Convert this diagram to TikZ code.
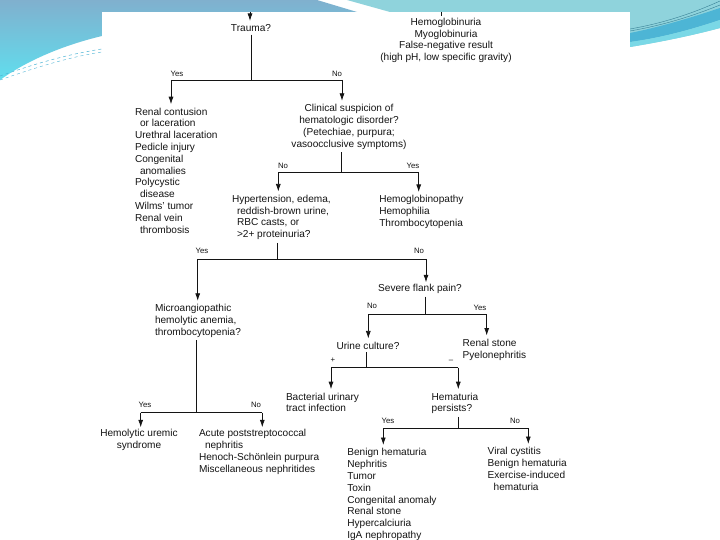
\documentclass[tikz,border=0pt]{standalone}
\usepackage{fontspec}
\setmainfont{Liberation Sans}
\usetikzlibrary{arrows.meta}
\definecolor{sb}{RGB}{128,176,206}
\definecolor{cy}{RGB}{96,222,238}
\definecolor{tl}{RGB}{143,211,220}
\definecolor{tb}{RGB}{77,181,213}
\definecolor{tc}{RGB}{122,216,230}
\definecolor{ink}{RGB}{20,20,20}
\begin{document}
\begin{tikzpicture}[x=1pt,y=-1pt,
  txt/.style={inner sep=0pt, outer sep=0pt, text=ink, font=\fontsize{10.1}{11.8}\selectfont, align=left, anchor=north west},
  ctxt/.style={txt, align=center, anchor=north},
  lbl/.style={inner sep=0pt, text=ink, font=\fontsize{7.8}{8}\selectfont},
  conn/.style={draw=ink, line width=0.75pt},
  arr/.style={conn, -{Latex[length=7.5pt,width=5pt]}, shorten >=3.5pt},
]
\useasboundingbox (0,0) rectangle (720,540);
\fill[white] (0,0) rectangle (720,540);
% background template
\shade[top color=sb, bottom color=cy] (0,0) -- (317,0) -- (357,12) -- (102,12) -- (102,36) .. controls (60,46) and (25,62) .. (0,80) -- cycle;
\fill[tl] (347,0) -- (720,0) -- (720,28) .. controls (690,36) and (660,42) .. (630,47) -- (630,12) -- (390,12) -- cycle;
\fill[tb] (630,33) .. controls (660,27) and (690,18) .. (720,8) -- (720,20) .. controls (690,30) and (660,38) .. (630,42) -- cycle;
\fill[tc] (630,42) .. controls (660,38) and (690,30) .. (720,20) -- (720,28) .. controls (690,36) and (660,42) .. (630,47) -- cycle;
\draw[tb!70!black, line width=0.4pt] (630,29) .. controls (670,22) and (700,10) .. (720,1);
\draw[tb!70!black, line width=0.4pt] (630,31) .. controls (670,24) and (700,13) .. (720,5);
\draw[tb, dashed, line width=0.5pt] (0,76) .. controls (40,62) and (70,54) .. (102,49);
\draw[tb, dashed, line width=0.4pt] (0,80) .. controls (40,66) and (70,57) .. (102,52);
% panel
\fill[white] (102,12) rectangle (630,540);

% nodes
\node[txt, anchor=center] (trauma) at (251,28) {Trauma?};
\node[ctxt] (hemo) at (446,18) {Hemoglobinuria\\Myoglobinuria\\False-negative result\\(high pH, low specific gravity)};
\node[txt] (renal) at (135,107.7) {Renal contusion\\\hspace*{5pt}or laceration\\Urethral laceration\\Pedicle injury\\Congenital\\\hspace*{5pt}anomalies\\Polycystic\\\hspace*{5pt}disease\\Wilms' tumor\\Renal vein\\\hspace*{5pt}thrombosis};
\node[ctxt] (clin) at (349,104.3) {Clinical suspicion of\\hematologic disorder?\\(Petechiae, purpura;\\vasoocclusive symptoms)};
\node[txt] (hyper) at (232,195) {Hypertension, edema,\\\hspace*{5pt}reddish-brown urine,\\\hspace*{5pt}RBC casts, or\\\hspace*{5pt}>2+ proteinuria?};
\node[txt] (hemop) at (379.3,195.5) {Hemoglobinopathy\\Hemophilia\\Thrombocytopenia};
\node[txt] (micro) at (155,304.3) {Microangiopathic\\hemolytic anemia,\\thrombocytopenia?};
\node[txt, anchor=center] (severe) at (420,289) {Severe flank pain?};
\node[txt] (stone) at (462.7,339) {Renal stone\\Pyelonephritis};
\node[txt, anchor=center] (urine) at (368,345.7) {Urine culture?};
\node[txt] (bact) at (286,392.7) {Bacterial urinary\\tract infection};
\node[txt] (hpers) at (431.7,392.7) {Hematuria\\persists?};
\node[ctxt] (hus) at (139,429.3) {Hemolytic uremic\\syndrome};
\node[txt] (apsgn) at (199,429.3) {Acute poststreptococcal\\\hspace*{6pt}nephritis\\Henoch-Schönlein purpura\\Miscellaneous nephritides};
\node[txt] (benign) at (347.3,448.5) {Benign hematuria\\Nephritis\\Tumor\\Toxin\\Congenital anomaly\\Renal stone\\Hypercalciuria\\IgA nephropathy};
\node[txt] (viral) at (487.7,447.5) {Viral cystitis\\Benign hematuria\\Exercise-induced\\\hspace*{6pt}hematuria};

% junction coordinates
\coordinate (top1) at (250,12);
\coordinate (top2) at (441,12);
\coordinate (j1) at (251,80);    \coordinate (b1l) at (171,80);    \coordinate (b1r) at (342,80);
\coordinate (j2) at (341,172.7); \coordinate (b2l) at (278.3,172.7); \coordinate (b2r) at (418.7,172.7);
\coordinate (j3) at (277.3,259); \coordinate (b3l) at (197.7,259); \coordinate (b3r) at (426,259);
\coordinate (j4) at (425.7,314.3); \coordinate (b4l) at (368.3,314.3); \coordinate (b4r) at (486.7,314.3);
\coordinate (j5) at (366.7,367.7); \coordinate (b5l) at (331,367.7); \coordinate (b5r) at (458.3,367.7);
\coordinate (j6) at (458.3,428.3); \coordinate (b6l) at (383.3,428.3); \coordinate (b6r) at (528.3,428.3);
\coordinate (j7) at (196.7,412.7); \coordinate (b7l) at (140.7,412.7); \coordinate (b7r) at (262.3,412.7);

% connectors
\draw[arr] (top1) -- (top1 |- trauma.north);
\draw[conn, line width=1pt, shorten >=2pt] (top2) -- (top2 |- hemo.north);

\draw[conn, shorten <=3pt] (j1 |- trauma.south) -- (j1);
\draw[conn] (b1l) -- (b1r);
\draw[arr] (b1l) -- (b1l |- renal.north);
\draw[arr] (b1r) -- (b1r |- clin.north);

\draw[conn, shorten <=3pt] (j2 |- clin.south) -- (j2);
\draw[conn] (b2l) -- (b2r);
\draw[arr] (b2l) -- (b2l |- hyper.north);
\draw[arr] (b2r) -- (b2r |- hemop.north);

\draw[conn, shorten <=3pt] (j3 |- hyper.south) -- (j3);
\draw[conn] (b3l) -- (b3r);
\draw[arr] (b3l) -- (b3l |- micro.north);
\draw[arr, shorten >=2pt] (b3r) -- (b3r |- severe.north);

\draw[conn, shorten <=3pt] (j4 |- severe.south) -- (j4);
\draw[conn] (b4l) -- (b4r);
\draw[arr] (b4l) -- (b4l |- urine.north);
\draw[arr] (b4r) -- (b4r |- stone.north);

\draw[conn, shorten <=3pt] (j5 |- urine.south) -- (j5);
\draw[conn] (b5l) -- (b5r);
\draw[arr] (b5l) -- (b5l |- bact.north);
\draw[arr] (b5r) -- (b5r |- hpers.north);

\draw[conn, shorten <=3pt] (j6 |- hpers.south) -- (j6);
\draw[conn] (b6l) -- (b6r);
\draw[arr] (b6l) -- (b6l |- benign.north);
\draw[arr] (b6r) -- (b6r |- viral.north);

\draw[conn, shorten <=3pt] (j7 |- micro.south) -- (j7);
\draw[conn] (b7l) -- (b7r);
\draw[arr, shorten >=2pt] (b7l) -- (b7l |- hus.north);
\draw[arr, shorten >=2pt] (b7r) -- (b7r |- apsgn.north);

% branch labels
\node[lbl] (l1y) at (177,74) {Yes};
\node[lbl] (l1n) at (337,74) {No};
\node[lbl] (l2n) at (283,166) {No};
\node[lbl] (l2y) at (413,166) {Yes};
\node[lbl] (l3y) at (202,251) {Yes};
\node[lbl] (l3n) at (419,251) {No};
\node[lbl] (l4n) at (372,306) {No};
\node[lbl] (l4y) at (480,308) {Yes};
\node[lbl] (l5p) at (333,360) {+};
\node[lbl] (l5m) at (451,361) {–};
\node[lbl] (l6y) at (388,421) {Yes};
\node[lbl] (l6n) at (515,421) {No};
\node[lbl] (l7y) at (145,405) {Yes};
\node[lbl] (l7n) at (256,405) {No};
\end{tikzpicture}
\end{document}
